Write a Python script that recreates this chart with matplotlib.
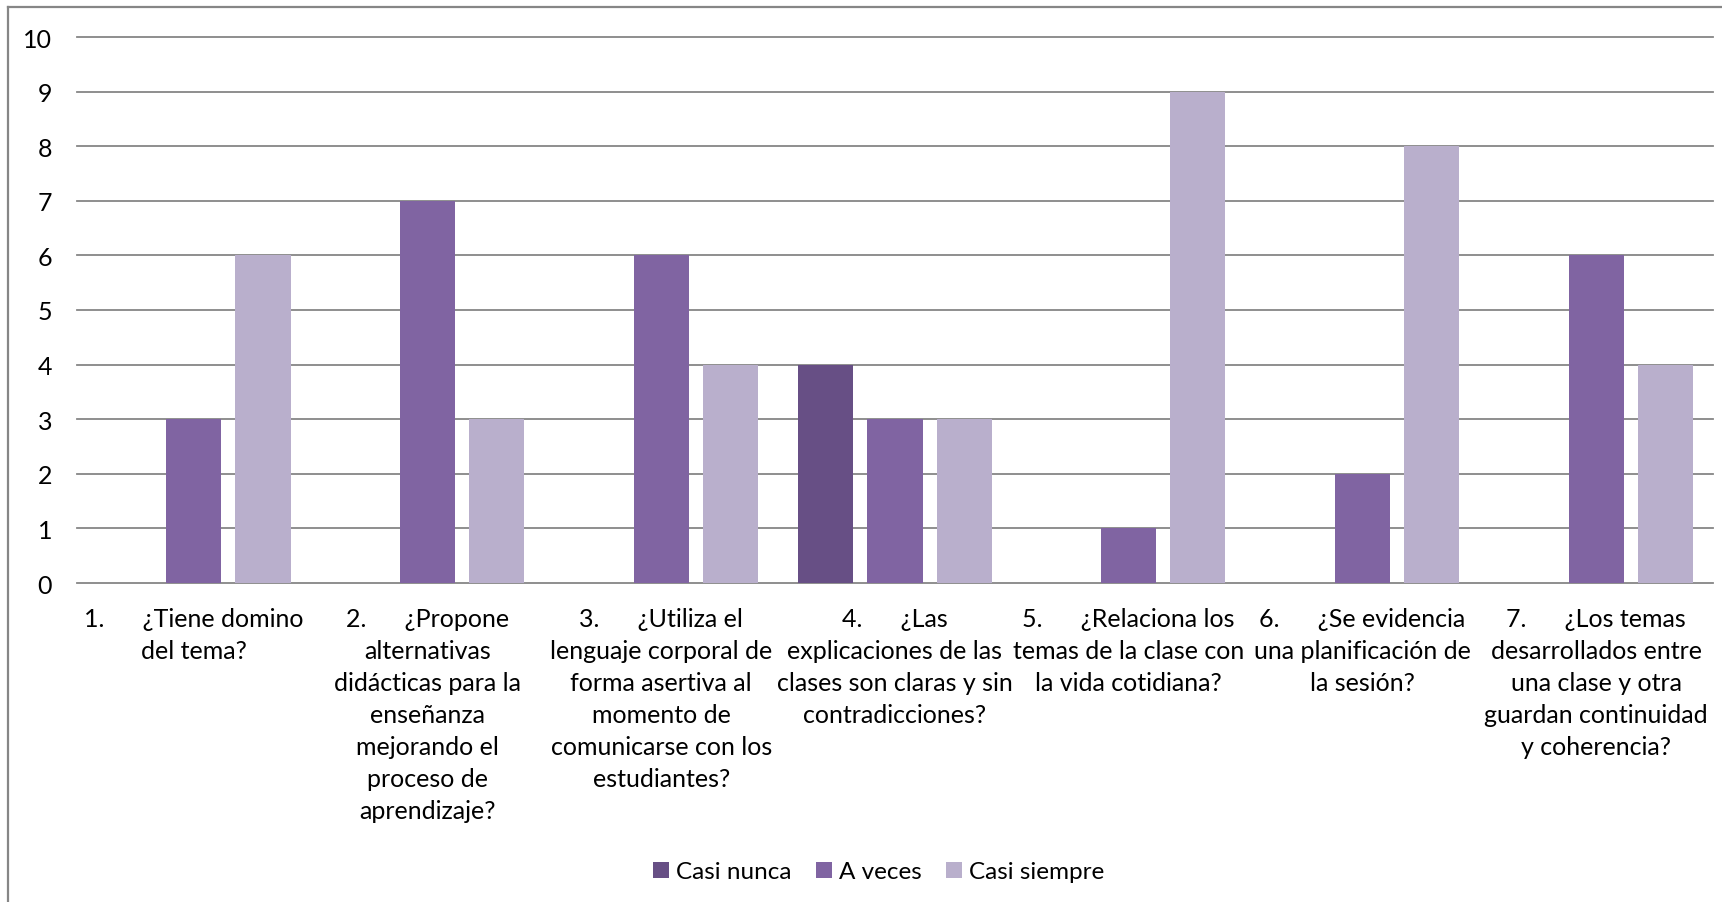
import numpy as np
import matplotlib.pyplot as plt
from matplotlib.lines import Line2D

plt.rcParams['font.family'] = ['Lato', 'DejaVu Sans']

categories = [
    "1.      ¿Tiene domino\ndel tema?",
    "2.      ¿Propone\nalternativas\ndidácticas para la\nenseñanza\nmejorando el\nproceso de\naprendizaje?",
    "3.      ¿Utiliza el\nlenguaje corporal de\nforma asertiva al\nmomento de\ncomunicarse con los\nestudiantes?",
    "4.      ¿Las\nexplicaciones de las\nclases son claras y sin\ncontradicciones?",
    "5.      ¿Relaciona los\ntemas de la clase con\nla vida cotidiana?",
    "6.      ¿Se evidencia\nuna planificación de\nla sesión?",
    "7.      ¿Los temas\ndesarrollados entre\nuna clase y otra\nguardan continuidad\ny coherencia?",
]
series_names = ["Casi nunca", "A veces", "Casi siempre"]
casi_nunca = [0, 0, 0, 4, 0, 0, 0]
a_veces = [3, 7, 6, 3, 1, 2, 6]
casi_siempre = [6, 3, 4, 3, 9, 8, 4]
colors = ["#674F85", "#8064A2", "#B9AFCC"]

W, H = 1722, 903
fig = plt.figure(figsize=(W / 100, H / 100), dpi=100)
ax = fig.add_axes([77 / W, 1 - 584 / H, (1713 - 77) / W, (584 - 38) / H])

x = np.arange(len(categories))
bw = 0.236
step = 0.296
for i, (vals, name, c) in enumerate(zip([casi_nunca, a_veces, casi_siempre], series_names, colors)):
    ax.bar(x + (i - 1) * step, vals, width=bw, color=c, label=name, zorder=3)

ax.set_xlim(-0.5, len(categories) - 0.5)
ax.set_ylim(0, 10)
ax.set_yticks(range(0, 11))
ax.set_xticks(x)
ax.set_xticklabels(categories, fontsize=18, linespacing=1.48, multialignment='center')
ax.tick_params(axis='both', length=0, colors='black')
ax.tick_params(axis='y', pad=18, labelsize=18)
ax.tick_params(axis='x', pad=17)

for s in ax.spines.values():
    s.set_visible(False)
ax.yaxis.grid(True, color='#868686', linewidth=1.3)
for gl in ax.get_ygridlines():
    gl.set_clip_on(False)
ax.set_axisbelow(True)

fig.legend(loc='center', bbox_to_anchor=(879 / W, 1 - 873 / H), ncol=3, frameon=False,
           fontsize=17.5, handlelength=0.65, handleheight=0.65, handletextpad=0.3,
           columnspacing=1.0)

# outer chart border (top and left visible)
fig.add_artist(Line2D([8 / W, 8 / W], [0, 1 - 8 / H], transform=fig.transFigure, color='#868686', linewidth=1.6))
fig.add_artist(Line2D([8 / W, 1], [1 - 8 / H, 1 - 8 / H], transform=fig.transFigure, color='#868686', linewidth=1.6))

plt.savefig("out.png", dpi=100)
